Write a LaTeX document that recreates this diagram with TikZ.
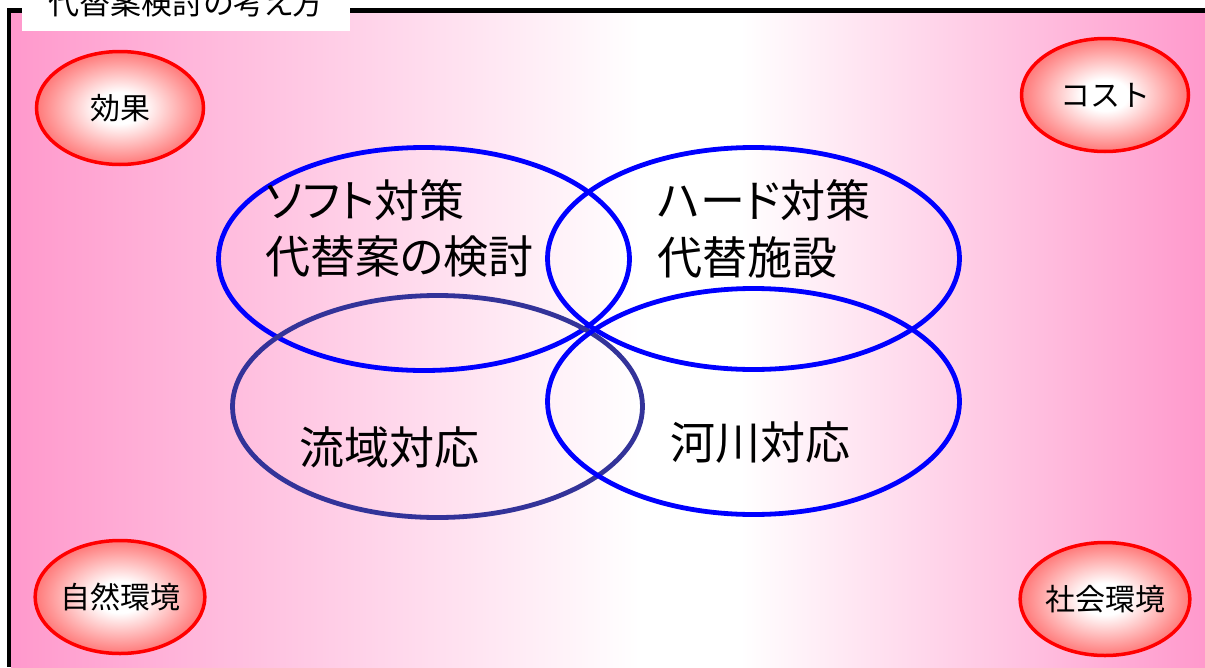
\documentclass[tikz,border=0pt]{standalone}
\usepackage{fontspec}
\setmainfont{Noto Sans CJK JP}
\newfontfamily\jp{Noto Sans CJK JP}
\newfontfamily\jpp{Noto Sans CJK JP}[RawFeature=+palt]
\usetikzlibrary{shapes.geometric}
\definecolor{pinkc}{HTML}{FF99CC}
\definecolor{navyc}{HTML}{333399}
\pgfdeclareradialshading{redball}{\pgfpoint{0bp}{0bp}}{color(0bp)=(white); color(7bp)=(white); color(24bp)=(red!50!white); color(38bp)=(red!95!white); color(50bp)=(red)}
\tikzset{
  bigell/.style={draw=blue, line width=4.8pt, ellipse, inner sep=0pt},
  smallell/.style={draw=red, line width=3.5pt, ellipse, shading=redball, inner sep=0pt,
    minimum width=167pt, minimum height=113pt, font=\jp\fontsize{30}{36}\selectfont},
  bigtxt/.style={anchor=west, inner sep=0pt, font=\jpp\fontsize{45}{54}\selectfont},
}
\begin{document}
\begin{tikzpicture}[x=1pt,y=-1pt]
\useasboundingbox (0,0) rectangle (1205,667);
% background
\fill[white] (0,0) rectangle (1205,667);
\shade[left color=pinkc, right color=white] (11,13) rectangle (640,667);
\fill[white] (639,13) rectangle (741,667);
\shade[left color=white, right color=pinkc] (740,13) rectangle (1205,667);
% frame
\draw[line width=4.5pt] (1205,10.5) -| (9,667);
% title
\fill[white] (22,-2) rectangle (350,31);
\node[inner sep=0pt, font=\jpp\fontsize{31}{36}\selectfont] (title) at (186,3) {代替案検討の考え方};
% big ellipses
\node[bigell, minimum width=411pt, minimum height=223pt] (soft) at (424,259) {};
\node[bigell, minimum width=412pt, minimum height=222pt] (hard) at (753.5,258.5) {};
\node[bigell, draw=navyc, minimum width=410pt, minimum height=222pt] (ryuiki) at (437.5,406.5) {};
\node[bigell, minimum width=412pt, minimum height=226pt] (kasen) at (753.5,401.5) {};
% texts
\node[bigtxt] (t1) at (265,200) {ソフト対策};
\node[bigtxt] (t2) at (265,257) {代替案の検討};
\node[bigtxt] (t3) at (657,200) {ハード対策};
\node[bigtxt] (t4) at (657,257) {代替施設};
\node[bigtxt] (t5) at (299,447) {流域対応};
\node[bigtxt] (t6) at (670,443) {河川対応};
% small ellipses
\node[smallell] (koka) at (120,108) {効果};
\node[smallell] (cost) at (1105,95) {コスト};
\node[smallell] (shizen) at (120,597) {自然環境};
\node[smallell] (shakai) at (1105,599) {社会環境};
\end{tikzpicture}
\end{document}
